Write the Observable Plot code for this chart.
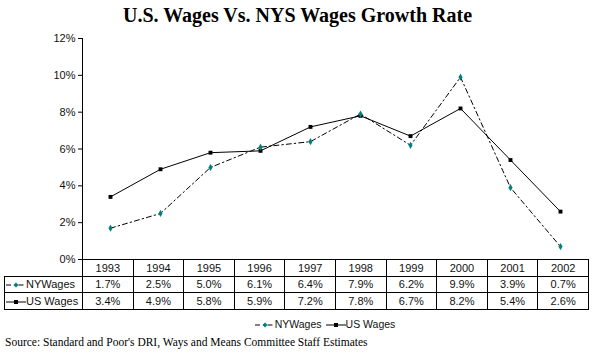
<!DOCTYPE html>
<html>
<head>
<meta charset="utf-8">
<script src="https://cdn.jsdelivr.net/npm/d3@7"></script>
<script src="https://cdn.jsdelivr.net/npm/@observablehq/plot@0.6"></script>
<style>
  html, body { margin: 0; padding: 0; background: #fff; }
  #wrap { position: relative; width: 595px; height: 355px; overflow: hidden; font-family: Arial, "Liberation Sans", sans-serif; }
  #title { position: absolute; left: 0; top: 4px; width: 595px; text-align: center; font-family: "Liberation Serif", "Times New Roman", serif; font-weight: bold; font-size: 20px; color: #000; }
  #plot { position: absolute; left: 0; top: 30px; }
  #tbl { position: absolute; left: 4px; top: 259px; border-collapse: collapse; table-layout: fixed; font-size: 11px; color: #111; }
  #tbl td { border: 1px solid #000; text-align: center; padding: 0; height: 15.6px; line-height: 14px; white-space: nowrap; }
  #tbl td.lab { text-align: left; padding-left: 1px; }
  #tbl td.blank { border-top: none; border-left: none; }
  #legend { position: absolute; left: 0; top: 318px; width: 650px; text-align: center; font-size: 10.5px; color: #111; white-space: nowrap; }
  #legend span { margin: 0 2px; }
  #source { position: absolute; left: 5px; top: 336px; font-family: "Liberation Serif", "Times New Roman", serif; font-size: 11.5px; color: #000; }
  svg.key { vertical-align: middle; }
</style>
</head>
<body>
<div id="wrap">
  <div id="title">U.S. Wages Vs. NYS Wages Growth Rate</div>
  <div id="plot"></div>
  <table id="tbl"></table>
  <div id="legend"></div>
  <div id="source">Source: Standard and Poor's DRI, Ways and Means Committee Staff Estimates</div>
</div>
<script>
const years = ["1993","1994","1995","1996","1997","1998","1999","2000","2001","2002"];
const nyWages = [1.7, 2.5, 5.0, 6.1, 6.4, 7.9, 6.2, 9.9, 3.9, 0.7];
const usWages = [3.4, 4.9, 5.8, 5.9, 7.2, 7.8, 6.7, 8.2, 5.4, 2.6];
const yTicks = [0, 2, 4, 6, 8, 10, 12];
const seriesNames = ["NYWages", "US Wages"];

const ny = years.map((y, i) => ({year: y, value: nyWages[i]}));
const us = years.map((y, i) => ({year: y, value: usWages[i]}));

const plot = Plot.plot({
  width: 595,
  height: 240,
  marginTop: 8,
  marginBottom: 11,
  marginLeft: 82,
  marginRight: 7,
  style: {fontFamily: "Arial, 'Liberation Sans', sans-serif", fontSize: "11px", color: "#111", background: "transparent"},
  x: {type: "point", domain: years, padding: 0.5, axis: null},
  y: {domain: [0, 12], axis: null},
  marks: [
    Plot.axisY({ticks: yTicks, tickSize: 4, tickPadding: 3, tickFormat: d => d + "%", label: null, stroke: "#000", fill: "#111", fontSize: 11}),
    Plot.frame({anchor: "left", stroke: "#000"}),
    Plot.frame({anchor: "bottom", stroke: "#000"}),
    Plot.line(us, {x: "year", y: "value", stroke: "#000", strokeWidth: 1}),
    Plot.line(ny, {x: "year", y: "value", stroke: "#000", strokeWidth: 1, strokeDasharray: "5,3,1.5,3"}),
    Plot.dot(us, {x: "year", y: "value", symbol: "square", r: 2.2, fill: "#000", stroke: "none"}),
    Plot.dot(ny, {x: "year", y: "value", symbol: "diamond", r: 2.2, fill: "#008080", stroke: "none"})
  ]
});
document.getElementById("plot").appendChild(plot);

// keys
const nyKey = `<svg class="key" width="20" height="8"><line x1="0" y1="4" x2="20" y2="4" stroke="#000" stroke-dasharray="5,3,1.5,3"/><path d="M10,1.5L12.5,4L10,6.5L7.5,4Z" fill="#008080"/></svg>`;
const usKey = `<svg class="key" width="20" height="8"><line x1="0" y1="4" x2="20" y2="4" stroke="#000"/><rect x="8" y="2" width="4" height="4" fill="#000"/></svg>`;

// data table
const step = (588 - 82) / years.length;
const tbl = document.getElementById("tbl");
let html = `<colgroup><col style="width:78px">` + years.map(() => `<col style="width:${step}px">`).join("") + `</colgroup>`;
html += `<tr><td class="blank"></td>` + years.map(y => `<td>${y}</td>`).join("") + `</tr>`;
html += `<tr><td class="lab">${nyKey}${seriesNames[0]}</td>` + nyWages.map(v => `<td>${v.toFixed(1)}%</td>`).join("") + `</tr>`;
html += `<tr><td class="lab">${usKey}${seriesNames[1]}</td>` + usWages.map(v => `<td>${v.toFixed(1)}%</td>`).join("") + `</tr>`;
tbl.innerHTML = html;
tbl.style.width = (78 + step * years.length) + "px";

document.getElementById("legend").innerHTML =
  `<span>${nyKey}${seriesNames[0]}</span><span>${usKey}${seriesNames[1]}</span>`;
</script>
</body>
</html>
